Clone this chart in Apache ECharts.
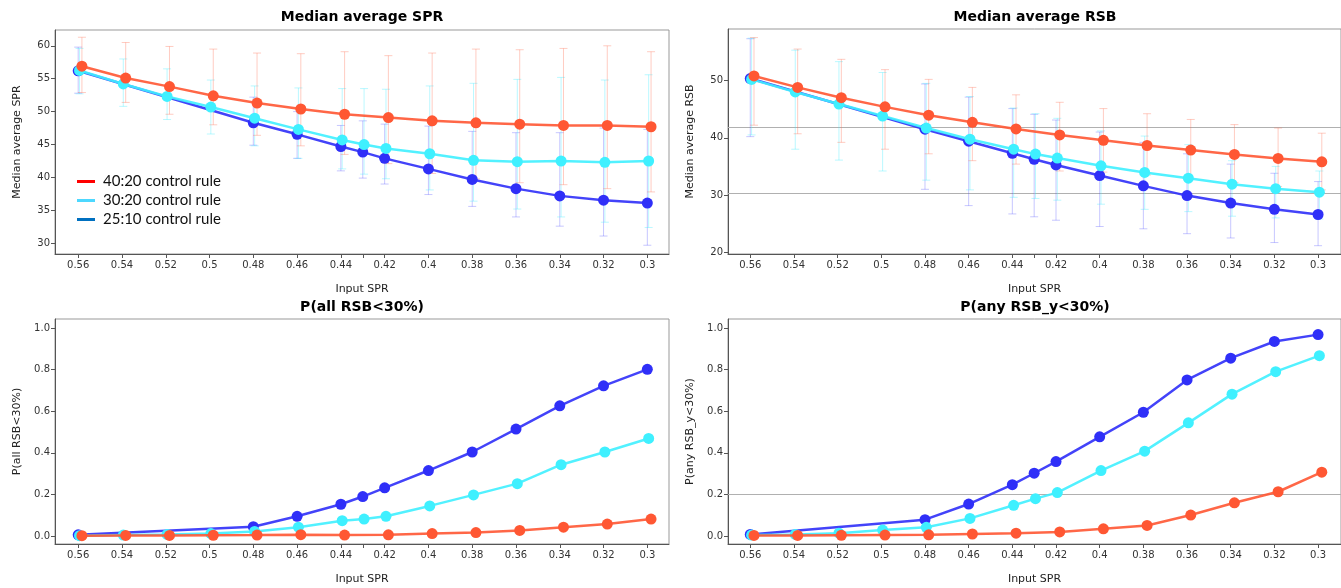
<!DOCTYPE html>
<html>
<head>
<meta charset="utf-8">
<script src="https://cdn.jsdelivr.net/npm/echarts@6/dist/echarts.min.js"></script>
<style>
  html, body { margin: 0; padding: 0; background: #fff; }
  #chart { width: 1341px; height: 588px; }
</style>
</head>
<body>
<div id="chart"></div>
<script>
// input SPR values each control rule was run at
const sprAll = [0.56, 0.54, 0.52, 0.5, 0.48, 0.46, 0.44, 0.43, 0.42, 0.4, 0.38, 0.36, 0.34, 0.32, 0.3]
const sprOrangeX = [0.56, 0.54, 0.52, 0.5, 0.48, 0.46, 0.44, 0.42, 0.4, 0.38, 0.36, 0.34, 0.32, 0.3]
const sprBlueX = [0.56, 0.48, 0.46, 0.44, 0.43, 0.42, 0.4, 0.38, 0.36, 0.34, 0.32, 0.3]

const ruleNames = ["40:20 control rule", "30:20 control rule", "25:10 control rule"]

// median average SPR (+ error bar ends)
const sprOrange = [56.9, 55.1, 53.8, 52.4, 51.3, 50.4, 49.6, 49.1, 48.6, 48.3, 48.1, 47.9, 47.9, 47.7]
const sprOrangeLo = [52.9, 51.4, 49.6, 48.0, 46.4, 44.8, 43.5, 42.1, 40.6, 39.8, 39.2, 38.9, 38.3, 37.8]
const sprOrangeHi = [61.3, 60.5, 59.9, 59.5, 58.9, 58.8, 59.1, 58.5, 58.9, 59.5, 59.4, 59.6, 60.0, 59.1]
const sprCyan = [56.25, 54.2, 52.3, 50.7, 49.0, 47.3, 45.7, 45.0, 44.4, 43.6, 42.6, 42.4, 42.5, 42.3, 42.5]
const sprCyanLo = [52.7, 50.8, 48.8, 46.6, 44.8, 42.9, 41.3, 40.5, 39.8, 38.1, 36.4, 35.2, 34.0, 33.2, 32.4]
const sprCyanHi = [59.6, 58.0, 56.5, 54.8, 53.9, 53.6, 53.5, 53.5, 53.4, 53.9, 54.3, 54.9, 55.2, 54.8, 55.6]
const sprBlue = [56.2, 48.3, 46.55, 44.7, 43.85, 42.9, 41.3, 39.7, 38.3, 37.2, 36.55, 36.1]
const sprBlueLo = [52.8, 44.9, 42.9, 41.0, 39.9, 39.0, 37.4, 35.6, 34.0, 32.6, 31.1, 29.7]
const sprBlueHi = [59.8, 52.2, 50.0, 47.9, 48.6, 48.1, 47.8, 47.0, 46.8, 46.8, 47.5, 47.3]

// median average RSB (+ error bar ends)
const rsbOrange = [50.8, 48.8, 47.0, 45.4, 43.95, 42.7, 41.55, 40.5, 39.55, 38.65, 37.85, 37.1, 36.4, 35.8]
const rsbOrangeLo = [42.2, 40.7, 39.2, 38.0, 37.2, 36.0, 35.4, 34.2, 34.0, 33.5, 32.8, 32.2, 31.5, 30.9]
const rsbOrangeHi = [57.5, 55.5, 53.7, 51.9, 50.2, 48.8, 47.5, 46.2, 45.1, 44.2, 43.2, 42.3, 41.7, 40.8]
const rsbCyan = [50.2, 48.0, 45.9, 43.8, 41.7, 39.75, 38.0, 37.15, 36.45, 35.1, 33.95, 32.95, 31.9, 31.1, 30.5]
const rsbCyanLo = [40.5, 38.0, 36.1, 34.2, 32.6, 30.9, 29.6, 29.4, 29.1, 28.4, 27.5, 27.1, 26.3, 26.0, 25.8]
const rsbCyanHi = [57.4, 55.3, 53.3, 51.4, 49.5, 47.2, 45.2, 44.2, 43.4, 41.2, 40.3, 38.8, 36.0, 35.0, 34.2]
const rsbBlue = [50.35, 41.5, 39.4, 37.3, 36.25, 35.25, 33.4, 31.6, 29.9, 28.6, 27.5, 26.6]
const rsbBlueLo = [40.2, 31.0, 28.15, 26.7, 26.2, 25.6, 24.5, 24.1, 23.25, 22.5, 21.7, 21.15]
const rsbBlueHi = [57.3, 49.4, 47.1, 45.1, 44.1, 43.1, 41.0, 39.2, 37.2, 35.4, 33.8, 32.35]
const rsbRefLines = [41.8, 30.3]

// P(all RSB<30%)
const pAllOrange = [0.002, 0.003, 0.003, 0.004, 0.005, 0.007, 0.005, 0.006, 0.012, 0.017, 0.027, 0.043, 0.058, 0.082]
const pAllCyan = [0.002, 0.005, 0.008, 0.012, 0.022, 0.043, 0.074, 0.082, 0.095, 0.145, 0.198, 0.252, 0.343, 0.404, 0.469]
const pAllBlue = [0.006, 0.045, 0.095, 0.153, 0.19, 0.232, 0.315, 0.404, 0.514, 0.626, 0.722, 0.801]

// P(any RSB_y<30%)
const pAnyOrange = [0.003, 0.003, 0.004, 0.005, 0.006, 0.01, 0.014, 0.02, 0.035, 0.051, 0.101, 0.16, 0.213, 0.307]
const pAnyCyan = [0.005, 0.008, 0.014, 0.029, 0.042, 0.085, 0.148, 0.18, 0.209, 0.315, 0.408, 0.544, 0.682, 0.79, 0.867]
const pAnyBlue = [0.008, 0.079, 0.154, 0.247, 0.302, 0.358, 0.477, 0.595, 0.75, 0.855, 0.935, 0.968]
const pAnyRefLines = [0.2]

// axis ticks
const xTicks = [0.56, 0.54, 0.52, 0.5, 0.48, 0.46, 0.44, 0.43, 0.42, 0.4, 0.38, 0.36, 0.34, 0.32, 0.3]
const xLabels = [0.56, 0.54, 0.52, 0.5, 0.48, 0.46, 0.44, 0.42, 0.4, 0.38, 0.36, 0.34, 0.32, 0.3]
const sprTicks = [30, 35, 40, 45, 50, 55, 60]
const rsbTicks = [20, 30, 40, 50]
const probTicks = [0, 0.2, 0.4, 0.6, 0.8, 1.0]

const COLORS = { orange: "#ff5733", cyan: "#3ff0ff", blue: "#2f2ff8" }
const BAR_COLORS = { orange: "rgba(255,110,80,0.35)", cyan: "rgba(60,235,255,0.35)", blue: "rgba(70,70,255,0.3)" }
const LEGEND_COLORS = ["#ff0000", "#4dd8ff", "#0070c0"]
// small dodge so the three rules don't sit on top of each other
const DODGE = { orange: -0.0017, cyan: -0.0006, blue: 0 }

const FONT = "DejaVu Sans"

const grids = [
  { left: 55, top: 30, width: 614, height: 224 },
  { left: 728, top: 29, width: 614, height: 225 },
  { left: 55, top: 319, width: 614, height: 225 },
  { left: 728, top: 319, width: 614, height: 225 },
]

function xAxisFor(gridIndex, min, max) {
  return {
    type: "value",
    gridIndex,
    inverse: true,
    min,
    max,
    name: "Input SPR",
    nameLocation: "middle",
    nameGap: 30,
    nameTextStyle: { fontFamily: FONT, fontSize: 11, color: "#222" },
    axisLine: { show: true, onZero: false, lineStyle: { color: "#555" } },
    axisTick: { show: true, length: 4, customValues: xTicks, lineStyle: { color: "#555" } },
    axisLabel: {
      customValues: xLabels,
      formatter: (v) => String(+v.toFixed(2)),
      fontFamily: FONT,
      fontSize: 10,
      color: "#333",
      margin: 6,
    },
    splitLine: { show: false },
  }
}

function yAxisFor(gridIndex, name, min, max, ticks, digits) {
  return {
    type: "value",
    gridIndex,
    min,
    max,
    name,
    nameLocation: "middle",
    nameGap: 32,
    nameTextStyle: { fontFamily: FONT, fontSize: 11, color: "#222" },
    axisLine: { show: true, onZero: false, lineStyle: { color: "#555" } },
    axisTick: { show: true, length: 4, customValues: ticks, lineStyle: { color: "#555" } },
    axisLabel: {
      customValues: ticks,
      formatter: (v) => v.toFixed(digits),
      fontFamily: FONT,
      fontSize: 10,
      color: "#333",
      margin: 5,
    },
    splitLine: { show: false },
  }
}

function pairs(xs, ys, dodge) {
  return xs.map((x, i) => [x + dodge, ys[i]])
}

function lineSeries(name, key, idx, xs, ys, z, refLines) {
  const s = {
    name,
    type: "line",
    xAxisIndex: idx,
    yAxisIndex: idx,
    data: pairs(xs, ys, DODGE[key]),
    symbol: "circle",
    symbolSize: 11,
    itemStyle: { color: COLORS[key] },
    lineStyle: { color: COLORS[key], width: 2.5, opacity: 0.9 },
    z,
  }
  if (refLines) {
    s.markLine = {
      silent: true,
      symbol: "none",
      label: { show: false },
      lineStyle: { color: "#b0b0b0", width: 1, type: "solid" },
      data: refLines.map((v) => ({ yAxis: v })),
      z: 1,
    }
  }
  return s
}

function errorBarItem(params, api) {
  const x = api.value(0)
  const lo = api.coord([x, api.value(1)])
  const hi = api.coord([x, api.value(2)])
  const cap = 4
  const style = { stroke: api.visual("color"), lineWidth: 1 }
  return {
    type: "group",
    children: [
      { type: "line", shape: { x1: lo[0], y1: lo[1], x2: hi[0], y2: hi[1] }, style },
      { type: "line", shape: { x1: lo[0] - cap, y1: lo[1], x2: lo[0] + cap, y2: lo[1] }, style },
      { type: "line", shape: { x1: hi[0] - cap, y1: hi[1], x2: hi[0] + cap, y2: hi[1] }, style },
    ],
  }
}

function errorSeries(key, idx, xs, lo, hi) {
  return {
    type: "custom",
    xAxisIndex: idx,
    yAxisIndex: idx,
    renderItem: errorBarItem,
    itemStyle: { color: BAR_COLORS[key] },
    encode: { x: 0, y: [1, 2] },
    data: xs.map((x, i) => [x + DODGE[key], lo[i], hi[i]]),
    silent: true,
    z: 1,
  }
}

const [orangeName, cyanName, blueName] = ruleNames

const series = [
  // Median average SPR
  errorSeries("blue", 0, sprBlueX, sprBlueLo, sprBlueHi),
  errorSeries("cyan", 0, sprAll, sprCyanLo, sprCyanHi),
  errorSeries("orange", 0, sprOrangeX, sprOrangeLo, sprOrangeHi),
  lineSeries(blueName, "blue", 0, sprBlueX, sprBlue, 3),
  lineSeries(cyanName, "cyan", 0, sprAll, sprCyan, 4),
  lineSeries(orangeName, "orange", 0, sprOrangeX, sprOrange, 5),
  // Median average RSB
  errorSeries("blue", 1, sprBlueX, rsbBlueLo, rsbBlueHi),
  errorSeries("cyan", 1, sprAll, rsbCyanLo, rsbCyanHi),
  errorSeries("orange", 1, sprOrangeX, rsbOrangeLo, rsbOrangeHi),
  lineSeries(blueName, "blue", 1, sprBlueX, rsbBlue, 3, rsbRefLines),
  lineSeries(cyanName, "cyan", 1, sprAll, rsbCyan, 4),
  lineSeries(orangeName, "orange", 1, sprOrangeX, rsbOrange, 5),
  // P(all RSB<30%)
  lineSeries(blueName, "blue", 2, sprBlueX, pAllBlue, 3),
  lineSeries(cyanName, "cyan", 2, sprAll, pAllCyan, 4),
  lineSeries(orangeName, "orange", 2, sprOrangeX, pAllOrange, 5),
  // P(any RSB_y<30%)
  lineSeries(blueName, "blue", 3, sprBlueX, pAnyBlue, 3, pAnyRefLines),
  lineSeries(cyanName, "cyan", 3, sprAll, pAnyCyan, 4),
  lineSeries(orangeName, "orange", 3, sprOrangeX, pAnyOrange, 5),
]

const titles = [
  { text: "Median average SPR", x: 362, y: 17 },
  { text: "Median average RSB", x: 1035, y: 17 },
  { text: "P(all RSB<30%)", x: 362, y: 307 },
  { text: "P(any RSB_y<30%)", x: 1035, y: 307 },
]

const chart = echarts.init(document.getElementById("chart"))

chart.setOption({
  animation: false,
  backgroundColor: "#fff",
  grid: grids.map((g) => ({ ...g, show: true, borderColor: "#999", borderWidth: 1, backgroundColor: "transparent" })),
  xAxis: [
    xAxisFor(0, 0.2901, 0.5706),
    xAxisFor(1, 0.2895, 0.5702),
    xAxisFor(2, 0.2901, 0.5706),
    xAxisFor(3, 0.2895, 0.5702),
  ],
  yAxis: [
    yAxisFor(0, "Median average SPR", 28.37, 62.4, sprTicks, 0),
    yAxisFor(1, "Median average RSB", 19.7, 59.0, rsbTicks, 0),
    yAxisFor(2, "P(all RSB<30%)", -0.038, 1.043, probTicks, 1),
    yAxisFor(3, "P(any RSB_y<30%)", -0.038, 1.043, probTicks, 1),
  ],
  legend: {
    orient: "vertical",
    left: 77,
    top: 174,
    padding: 0,
    itemGap: 4,
    itemWidth: 18,
    itemHeight: 3,
    icon: "rect",
    selectedMode: false,
    textStyle: { fontFamily: "Lato", fontSize: 15, color: "#111", padding: [0, 0, 0, 3] },
    data: ruleNames.map((name, i) => ({
      name,
      itemStyle: { color: LEGEND_COLORS[i] },
      lineStyle: { color: LEGEND_COLORS[i] },
    })),
  },
  graphic: titles.map((t) => ({
    type: "text",
    x: t.x,
    y: t.y,
    style: {
      text: t.text,
      fontFamily: FONT,
      fontWeight: "bold",
      fontSize: 14,
      fill: "#000",
      textAlign: "center",
      textVerticalAlign: "middle",
    },
  })),
  series,
})
</script>
</body>
</html>
